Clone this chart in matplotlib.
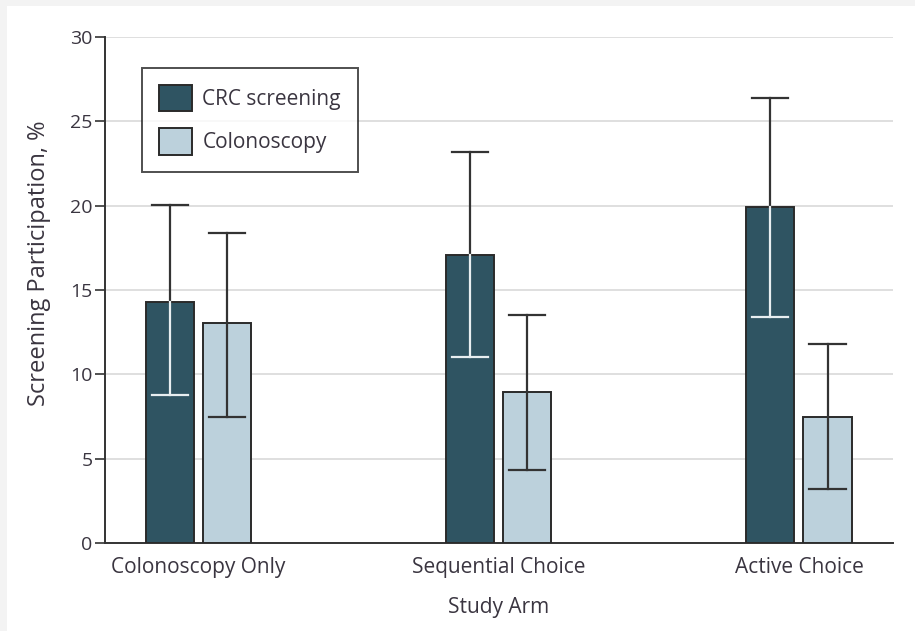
import matplotlib
matplotlib.use("Agg")
import matplotlib.pyplot as plt
import numpy as np
from matplotlib import font_manager

categories = ["Colonoscopy Only", "Sequential Choice", "Active Choice"]
series_names = ["CRC screening", "Colonoscopy"]
crc_vals = [14.3, 17.05, 19.9]
crc_lo = [8.8, 11.0, 13.4]
crc_hi = [20.05, 23.2, 26.4]
colo_vals = [13.05, 8.95, 7.5]
colo_lo = [7.5, 4.3, 3.2]
colo_hi = [18.4, 13.5, 11.8]
yticks = [0, 5, 10, 15, 20, 25, 30]

names = {f.name for f in font_manager.fontManager.ttflist}
fam = [f for f in ["Liberation Sans Narrow", "Open Sans", "DejaVu Sans"] if f in names]
plt.rcParams['font.family'] = fam
txt = "#3a3540"

fig = plt.figure(figsize=(9.15, 6.31), dpi=100, facecolor="#f3f3f3")
fig.patches.append(plt.Rectangle((7/915, 0), 1, 1 - 6/631, transform=fig.transFigure,
                                 facecolor="white", edgecolor="none", zorder=-10))
ax = fig.add_axes([105/915, (631-543)/631, (893-105)/915, (543-37)/631])
ax.set_facecolor("white")

x = np.arange(len(categories))
w = 0.16
off = 0.095
dark = "#2f5462"
light = "#bcd1dc"
edge = "#2a2a2a"

ax.bar(x - off, crc_vals, w, color=dark, edgecolor=edge, linewidth=1.4, zorder=3, label=series_names[0])
ax.bar(x + off, colo_vals, w, color=light, edgecolor=edge, linewidth=1.4, zorder=3, label=series_names[1])

cap = 0.06
for xi, v, lo, hi in zip(x - off, crc_vals, crc_lo, crc_hi):
    ax.plot([xi, xi], [v, hi], color="#333333", lw=1.6, zorder=4)
    ax.plot([xi - cap, xi + cap], [hi, hi], color="#333333", lw=1.6, zorder=4)
    ax.plot([xi, xi], [lo, v], color="#e8eef0", lw=1.6, zorder=4)
    ax.plot([xi - cap, xi + cap], [lo, lo], color="#e8eef0", lw=1.6, zorder=4)
for xi, v, lo, hi in zip(x + off, colo_vals, colo_lo, colo_hi):
    ax.plot([xi, xi], [lo, hi], color="#333333", lw=1.6, zorder=4)
    ax.plot([xi - cap, xi + cap], [hi, hi], color="#333333", lw=1.6, zorder=4)
    ax.plot([xi - cap, xi + cap], [lo, lo], color="#333333", lw=1.6, zorder=4)

ax.set_xlim(-0.31, 2.313)
ax.set_ylim(0, 30)
ax.set_yticks(yticks)
ax.set_yticklabels([str(t) for t in yticks], fontsize=14, color=txt)
ax.set_xticks(x)
ax.set_xticklabels(categories, fontsize=15, color=txt)
ax.tick_params(axis='x', length=0, pad=10)
ax.tick_params(axis='y', length=7, width=1.2, color="#333333", pad=2)
ax.grid(axis='y', color="#dcdcdc", lw=1.3, zorder=0)
ax.set_axisbelow(True)
for s in ["top", "right"]:
    ax.spines[s].set_visible(False)
for s in ["left", "bottom"]:
    ax.spines[s].set_color("#333333")
    ax.spines[s].set_linewidth(1.4)
ax.set_ylabel("Screening Participation, %", fontsize=17, color=txt)
ax.yaxis.set_label_coords(-0.068, 0.553)
ax.set_xlabel("Study Arm", fontsize=15, color=txt, labelpad=14)

leg = ax.legend(loc="upper left", bbox_to_anchor=((142-105)/788, 1 - (68-37)/506),
                fontsize=15, frameon=True, fancybox=False, edgecolor="#222222",
                handlelength=1.6, handleheight=1.6, borderpad=0.8, labelspacing=0.8,
                handletextpad=0.5, borderaxespad=0)
leg.get_frame().set_linewidth(1.4)
for t in leg.get_texts():
    t.set_color(txt)

fig.savefig("out.png", dpi=100, facecolor=fig.get_facecolor())
